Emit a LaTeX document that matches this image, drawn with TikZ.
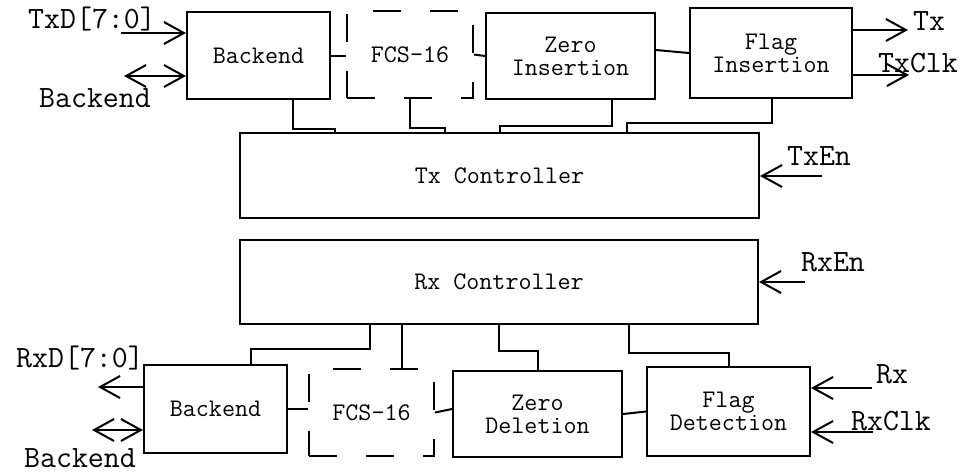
\documentclass[tikz,border=0pt]{standalone}
\usetikzlibrary{arrows.meta}

\begin{document}
\begin{tikzpicture}[x=1pt, y=-1pt, line width=2pt,
    block/.style={rectangle,draw,inner sep=0pt,align=center,font=\fontsize{25.3}{23}\ttfamily},
    fcsblock/.style={block,dash pattern=on 28pt off 29pt},
    lbl/.style={inner sep=0pt,anchor=base,font=\fontsize{31}{31}\ttfamily},
    >={Straight Barb[length=20pt,width=22pt]}]
    \useasboundingbox (0,0) rectangle (966,475);

    % transmit path
    \node[block, minimum width=143pt, minimum height=87pt] (txback) at (258.5,55.5) {Backend};
    \node[fcsblock, minimum width=126pt, minimum height=87pt] (txfcs) at (410,54.5) {FCS-16};
    \node[block, minimum width=169pt, minimum height=86pt] (zins) at (570.5,56) {Zero\\Insertion};
    \node[block, minimum width=162pt, minimum height=90pt] (fins) at (771,53) {Flag\\Insertion};
    \node[block, minimum width=519pt, minimum height=85pt] (txctl) at (499.5,175.5) {Tx Controller};

    % receive path
    \node[block, minimum width=518pt, minimum height=84pt] (rxctl) at (499,282) {Rx Controller};
    \node[block, minimum width=143pt, minimum height=88pt] (rxback) at (215.5,409) {Backend};
    \node[fcsblock, minimum width=125pt, minimum height=87pt] (rxfcs) at (371.5,412.5) {FCS-16};
    \node[block, minimum width=169pt, minimum height=86pt] (zdel) at (537.5,414) {Zero\\Deletion};
    \node[block, minimum width=163pt, minimum height=89pt] (fdet) at (728.5,411.5) {Flag\\Detection};

    % outside signals
    \node[lbl] (txdlbl) at (92,28) {TxD[7:0]};
    \node[lbl] (txbelbl) at (95,107) {Backend};
    \node[lbl] (txlbl) at (929,30) {Tx};
    \node[lbl] (txclklbl) at (918,72) {TxClk};
    \node[lbl] (txenlbl) at (819,165) {TxEn};
    \node[lbl] (rxenlbl) at (833,271) {RxEn};
    \node[lbl] (rxdlbl) at (80,367) {RxD[7:0]};
    \node[lbl] (rxbelbl) at (80,467) {Backend};
    \node[lbl] (rxlbl) at (892,383) {Rx};
    \node[lbl] (rxclklbl) at (891,430) {RxClk};

    \coordinate (txdin) at (121,33);
    \coordinate (txbein) at (124,76);
    \coordinate (txout) at (908,30);
    \coordinate (txclkout) at (909,75);
    \coordinate (txenin) at (822,176);
    \coordinate (rxenin) at (805,282);
    \coordinate (rxdout) at (98,387);
    \coordinate (rxbein) at (92,430);
    \coordinate (rxin) at (872,388);
    \coordinate (rxclkin) at (873,432);

    \draw[->] (txdin) -- (txdin -| txback.west);
    \draw[<->] (txbein) -- (txbein -| txback.west);
    \draw[->] (txout -| fins.east) -- (txout);
    \draw[->] (txclkout -| fins.east) -- (txclkout);
    \draw[->] (txenin) -- (txenin -| txctl.east);
    \draw[->] (rxenin) -- (rxenin -| rxctl.east);
    \draw[->] (rxdout -| rxback.west) -- (rxdout);
    \draw[<->] (rxbein) -- (rxbein -| rxback.west);
    \draw[->] (rxin) -- (rxin -| fdet.east);
    \draw[->] (rxclkin) -- (rxclkin -| fdet.east);

    % chain of blocks
    \draw (txback.east) -- (txback.east -| txfcs.west);
    \draw (txfcs.east) -- (zins.west);
    \draw ([yshift=6pt]zins.east) -- (fins.west);
    \draw (rxback.east) -- (rxback.east -| rxfcs.west);
    \draw (rxfcs.east) -- ([yshift=5pt]zdel.west);
    \draw (zdel.east) -- (fdet.west);

    % controller taps
    \draw (txback.south -| 293,0) |- (335,129) -- (txctl.north -| 335,0);
    \draw (txfcs.south) |- (445,128) -- (txctl.north -| 445,0);
    \draw (zins.south -| 612,0) |- (500,126) -- (txctl.north -| 500,0);
    \draw (fins.south -| 772,0) |- (627,123) -- (txctl.north -| 627,0);
    \draw (rxctl.south -| 370,0) |- (251,349) -- (rxback.north -| 251,0);
    \draw (rxctl.south -| 402,0) -- (rxfcs.north -| 402,0);
    \draw (rxctl.south -| 499,0) |- (538,351) -- (zdel.north -| 538,0);
    \draw (rxctl.south -| 629,0) |- (729,353) -- (fdet.north -| 729,0);
\end{tikzpicture}
\end{document}
